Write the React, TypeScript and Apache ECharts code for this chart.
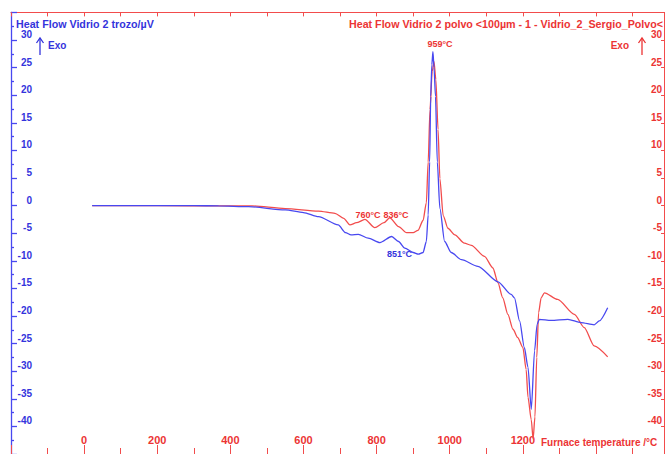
import React, { useEffect, useRef } from "react";
import * as echarts from "echarts";

// Furnace temperature (°C) and heat flow (µV)
const blueT = [22, 150, 300, 368, 450, 550, 600, 641, 695, 715, 730, 750, 777, 809, 841, 860, 877, 900, 914, 927, 936, 941, 945, 948, 951, 954, 957, 961, 966, 973, 986, 1004, 1032, 1077, 1132, 1168, 1177, 1191, 1204, 1214, 1223, 1232, 1239, 1245, 1277, 1323, 1359, 1395, 1409, 1432];
const blueV = [0, 0, 0, -0.05, -0.2, -0.77, -1.26, -2.0, -3.5, -4.9, -5.3, -5.2, -5.9, -6.7, -5.6, -6.5, -7.7, -8.5, -8.8, -8.5, -6.5, -1.7, 7.9, 19.8, 25.5, 27.9, 25.0, 19.8, 7.9, -0.5, -6.5, -8.5, -9.8, -11.0, -13.8, -16.1, -16.7, -20.9, -25.7, -29.3, -36.9, -26.3, -21.5, -20.6, -20.8, -20.6, -21.2, -21.6, -20.9, -18.5];

const redT = [22, 200, 368, 459, 550, 641, 686, 710, 727, 745, 768, 795, 820, 836, 860, 882, 900, 913, 927, 936, 941, 946, 952, 957, 962, 968, 973, 982, 995, 1014, 1040, 1059, 1095, 1118, 1132, 1145, 1159, 1173, 1186, 1200, 1209, 1214, 1223, 1228, 1233, 1238, 1243, 1250, 1259, 1295, 1341, 1368, 1395, 1432];
const redV = [0, 0, -0.05, -0.05, -0.54, -1.0, -1.4, -2.3, -3.5, -3.1, -2.5, -4.0, -3.1, -2.2, -3.8, -4.9, -4.9, -4.5, -2.7, 0.5, 7.9, 17.4, 24.3, 26.1, 22.8, 13.8, 4.9, -1.8, -4.1, -5.3, -6.8, -7.2, -9.2, -11.3, -14.0, -16.7, -19.7, -22.4, -23.9, -25.7, -29.7, -34.7, -38.8, -42.3, -38.3, -27.5, -19.4, -16.7, -15.8, -17.0, -19.7, -22.1, -25.4, -27.4];

const xTickLabels = [0, 200, 400, 600, 800, 1000, 1200];
const yTickLabels = [30, 25, 20, 15, 10, 5, 0, -5, -10, -15, -20, -25, -30, -35, -40];

const BLUE_LINE = "#4848f0";
const RED_LINE = "#f24c4c";
const BLUE_TEXT = "#3434dc";
const RED_TEXT = "#ec3434";
const FONT = "'Liberation Sans', Arial, sans-serif";

export default function App() {
  const ref = useRef<HTMLDivElement>(null);
  useEffect(() => {
    document.body.style.margin = "0";
    const chart = echarts.init(ref.current!, undefined, { renderer: "svg" });
    const yLabel = (color: string, align: string, margin: number) => ({
      show: true,
      inside: true,
      color,
      fontSize: 10,
      fontWeight: "bold",
      fontFamily: FONT,
      align,
      verticalAlign: "bottom",
      lineHeight: 11,
      margin,
      showMinLabel: false,
      showMaxLabel: false,
      formatter: (v: number) => (yTickLabels.includes(v) ? String(v) : ""),
    });
    const txt = (text: string, x: number, y: number, fill: string, align = "left", size = 9) => ({
      type: "text",
      x,
      y,
      silent: true,
      style: { text, fill, fontSize: size, fontWeight: "bold", fontFamily: FONT, align, verticalAlign: "middle" },
    });
    const arrow = (x: number, color: string) => [
      { type: "line", shape: { x1: x, y1: 55, x2: x, y2: 38 }, style: { stroke: color, lineWidth: 1.3 } },
      { type: "polyline", shape: { points: [[x - 3.5, 43], [x, 38], [x + 3.5, 43]] }, style: { stroke: color, lineWidth: 1.3, fill: "none" } },
    ];
    chart.setOption({
      animation: false,
      backgroundColor: "#ffffff",
      grid: { left: 11, right: -1, top: 207 - 35 * 5.56, bottom: -3.2 },
      xAxis: [
        {
          type: "value",
          position: "bottom",
          min: -200,
          max: 1586,
          interval: 200,
          splitLine: { show: false },
          axisLine: { show: true, onZero: false, lineStyle: { color: RED_LINE } },
          axisTick: { show: true, inside: true, length: 9, lineStyle: { color: RED_LINE } },
          minorTick: { show: true, splitNumber: 2, length: 6, lineStyle: { color: RED_LINE } },
          axisLabel: {
            inside: true,
            margin: 9,
            color: RED_TEXT,
            fontSize: 11,
            fontWeight: "bold",
            fontFamily: FONT,
            showMinLabel: false,
            showMaxLabel: false,
            formatter: (v: number) => (xTickLabels.includes(v) ? String(v) : ""),
          },
        },
        {
          type: "value",
          position: "top",
          min: -200,
          max: 1586,
          interval: 100,
          splitLine: { show: false },
          axisLine: { show: true, onZero: false, lineStyle: { color: RED_LINE, width: 1.2 } },
          axisTick: { show: true, inside: true, length: 4, lineStyle: { color: RED_LINE } },
          axisLabel: { show: false },
        },
      ],
      yAxis: [
        {
          type: "value",
          position: "left",
          min: -45,
          max: 35,
          interval: 5,
          splitLine: { show: false },
          axisLine: { show: true, onZero: false, lineStyle: { color: BLUE_LINE, width: 1.3 } },
          axisTick: { show: true, inside: true, length: 6, lineStyle: { color: BLUE_LINE, width: 1.3 } },
          minorTick: { show: true, splitNumber: 2, length: 3, lineStyle: { color: BLUE_LINE, width: 1.3 } },
          axisLabel: yLabel(BLUE_TEXT, "right", 21),
        },
        {
          type: "value",
          position: "right",
          min: -45,
          max: 35,
          interval: 5,
          splitLine: { show: false },
          axisLine: { show: true, onZero: false, lineStyle: { color: RED_LINE } },
          axisTick: { show: true, inside: true, length: 3, lineStyle: { color: RED_LINE } },
          axisLabel: yLabel(RED_TEXT, "right", 2),
        },
      ],
      series: [
        {
          type: "line",
          xAxisIndex: 0,
          yAxisIndex: 1,
          data: redT.map((t, i) => [t, redV[i]]),
          showSymbol: false,
          smooth: 0.25,
          smoothMonotone: "x",
          lineStyle: { color: RED_LINE, width: 1.3 },
          z: 2,
        },
        {
          type: "line",
          xAxisIndex: 0,
          yAxisIndex: 0,
          data: blueT.map((t, i) => [t, blueV[i]]),
          showSymbol: false,
          smooth: 0.25,
          smoothMonotone: "x",
          lineStyle: { color: BLUE_LINE, width: 1.3 },
          z: 3,
        },
      ],
      graphic: [
        txt("Heat Flow Vidrio 2 trozo/µV", 16, 24, BLUE_TEXT, "left", 10.7),
        txt("Heat Flow Vidrio 2 polvo <100µm - 1 - Vidrio_2_Sergio_Polvo<", 663, 24, RED_TEXT, "right", 10.7),
        ...arrow(40, BLUE_TEXT),
        txt("Exo", 48, 45, BLUE_TEXT, "left", 10),
        ...arrow(642, RED_TEXT),
        txt("Exo", 629, 45, RED_TEXT, "right", 10),
        txt("959°C", 440, 44, RED_TEXT, "center", 9),
        txt("760°C", 368, 215, RED_TEXT, "center", 9),
        txt("836°C", 396, 215, RED_TEXT, "center", 9),
        txt("851°C", 399.5, 254, BLUE_TEXT, "center", 9),
        txt("Furnace temperature /°C", 541, 442, RED_TEXT, "left", 10),
      ],
    });
    return () => chart.dispose();
  }, []);
  return <div ref={ref} style={{ width: 665, height: 454 }} />;
}
